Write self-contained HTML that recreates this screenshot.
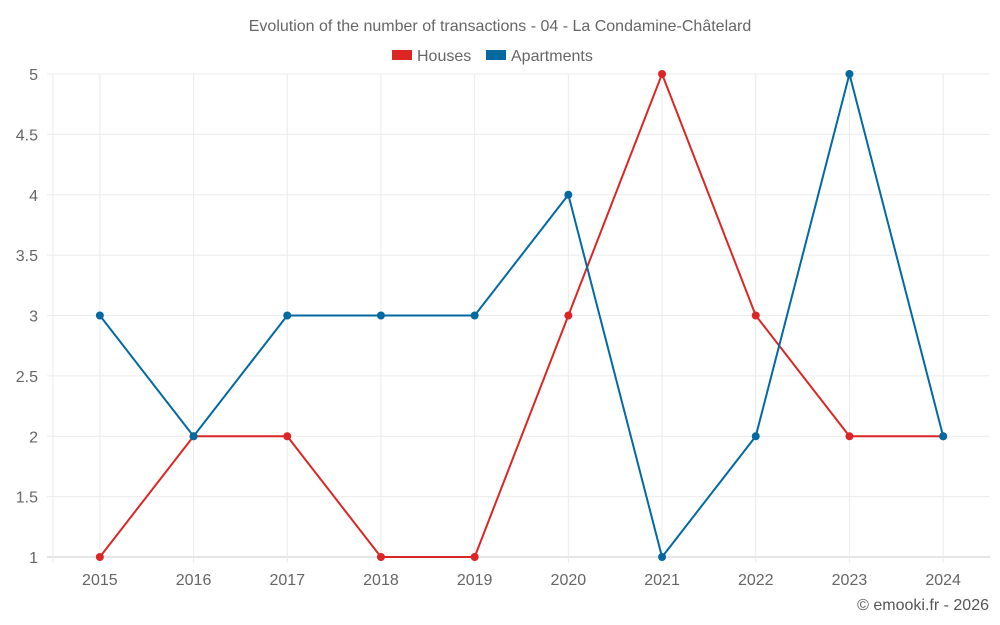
<!DOCTYPE html>
<html><head><meta charset="utf-8"><style>
body{margin:0;background:#fff;font-family:"Liberation Sans",sans-serif}
svg{display:block}
</style></head><body>
<svg id="chart" width="1000" height="625">
<text x="500" y="31" text-anchor="middle" font-size="16" fill="#666">Evolution of the number of transactions - 04 - La Condamine-Châtelard</text>
<g>
<g><rect x="392" y="50" width="20" height="10" fill="#dc2626"/><text x="417" y="61" font-size="16" fill="#666">Houses</text></g>
<g><rect x="486" y="50" width="20" height="10" fill="#0369a1"/><text x="511" y="61" font-size="16" fill="#666">Apartments</text></g>
</g>
<g id="grid"></g><g id="series"></g>
<text x="989" y="610" text-anchor="end" font-size="16" fill="#555">© emooki.fr - 2026</text>
</svg>
<script>
const categories=["2015","2016","2017","2018","2019","2020","2021","2022","2023","2024"];
const houses=[1,2,2,1,1,3,5,3,2,2];
const apartments=[3,2,3,3,3,4,1,2,5,2];
const yTicks=[1,1.5,2,2.5,3,3.5,4,4.5,5];
const L=53,R=990,T=74,B=557,yMin=1,yMax=5;
const bw=(R-L)/categories.length;
const x=i=>L+bw*(i+0.5);
const y=v=>B-(v-yMin)/(yMax-yMin)*(B-T);
const NS="http://www.w3.org/2000/svg";
const grid=document.getElementById('grid'),ser=document.getElementById('series');
function mk(tag,attrs,parent){const e=document.createElementNS(NS,tag);for(const k in attrs)e.setAttribute(k,attrs[k]);parent.appendChild(e);return e;}
yTicks.forEach(t=>{
 const l=mk('line',{x1:47,x2:R,y1:y(t),y2:y(t),stroke:t===yMin?'#ccc':'#ebebeb'},grid);
 
 
 const tx=mk('text',{x:38,y:y(t)+6,'text-anchor':'end','font-size':16,fill:'#666'},grid);
 tx.textContent=String(t);
 
 
});
const ax=mk('line',{x1:L,x2:L,y1:T,y2:B+6,stroke:'#ebebeb'},grid);


categories.forEach((c,i)=>{
 const l=mk('line',{x1:x(i),x2:x(i),y1:T,y2:B+6,stroke:'#ebebeb'},grid);
 
 
 const tx=mk('text',{x:x(i),y:585,'text-anchor':'middle','font-size':16,fill:'#666'},grid);
 tx.textContent=c;
 
 
});
function draw(data,color,name){
 const p=mk('polyline',{points:data.map((v,i)=>x(i)+','+y(v)).join(' '),fill:'none',stroke:color,'stroke-width':2},ser);
 
 
 data.forEach((v,i)=>{
  const c=mk('circle',{cx:x(i),cy:y(v),r:4,fill:color},ser);
  
  
 });
}
draw(houses,'#dc2626','houses');
draw(apartments,'#0369a1','apartments');
</script>
</body></html>
